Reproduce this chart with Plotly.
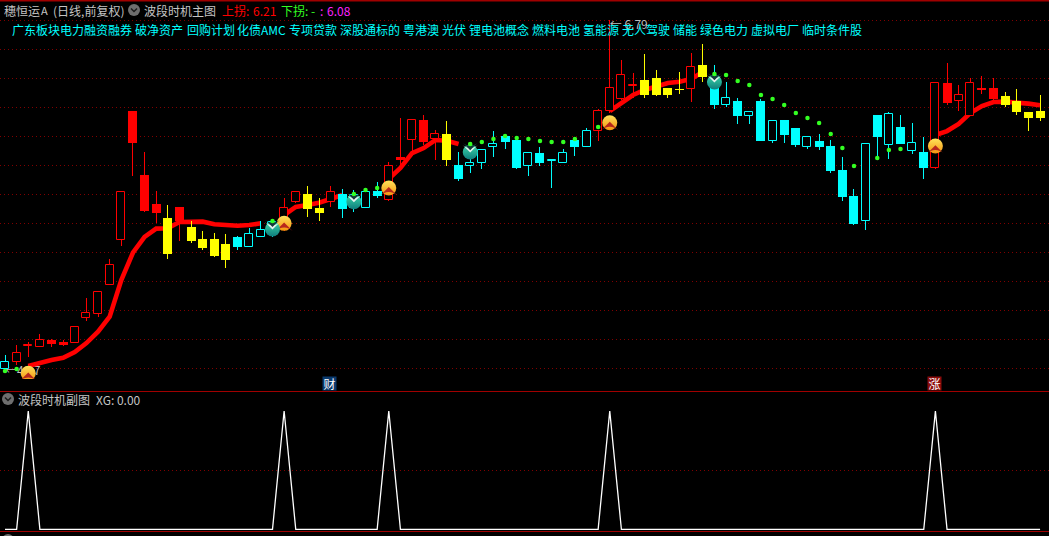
import plotly.graph_objects as go

FONT = "Noto Sans CJK SC"
W, H = 1049, 536

# ---- daily bars ----
tones = list("crrrrrrrrrrrrryryyyyccccrryyrccccrrrrrycccccccccccc"
             "rrrryyyyryccccccccccccccccccc" "rrrrrryyyy")
opens = [4.489, 4.531, 4.638, 4.634, 4.678, 4.665, 4.660, 4.821, 4.848, 5.043,
         5.336, 6.189, 5.767, 5.576, 5.483, 5.554, 5.424, 5.345, 5.345, 5.312,
         5.358, 5.294, 5.360, 5.391, 5.483, 5.591, 5.642, 5.549, 5.591, 5.642,
         5.642, 5.551, 5.659, 5.604, 5.886, 5.996, 6.128, 6.007, 6.038, 5.833,
         5.824, 5.846, 5.950, 6.024, 5.998, 5.828, 5.910, 5.859, 5.846, 5.998,
         5.954, 6.055, 6.187, 6.271, 6.354, 6.394, 6.407, 6.341, 6.335, 6.337,
         6.493, 6.339, 6.229, 6.255, 6.158, 6.255, 5.991, 6.130, 6.077, 5.952,
         5.991, 5.958, 5.800, 5.628, 5.463, 6.163, 5.965, 6.084, 5.925, 5.919,
         5.813, 6.372, 6.253, 6.158, 6.339, 6.339, 6.288, 6.255, 6.183, 6.189]
closes = [4.531, 4.590, 4.645, 4.676, 4.654, 4.647, 4.762, 4.854, 4.993, 5.171,
          5.653, 5.976, 5.529, 5.516, 5.248, 5.465, 5.331, 5.285, 5.232, 5.206,
          5.292, 5.376, 5.402, 5.457, 5.547, 5.653, 5.543, 5.516, 5.653, 5.543,
          5.549, 5.653, 5.630, 5.826, 5.866, 6.128, 5.987, 6.038, 5.866, 5.741,
          5.846, 5.932, 5.972, 5.985, 5.813, 5.910, 5.846, 5.866, 5.910, 5.952,
          6.055, 6.187, 6.339, 6.425, 6.361, 6.295, 6.295, 6.295, 6.328, 6.478,
          6.414, 6.229, 6.273, 6.158, 6.181, 5.991, 6.121, 6.031, 5.965, 6.016,
          5.952, 5.793, 5.622, 5.444, 5.972, 6.018, 6.168, 5.972, 5.976, 5.813,
          6.372, 6.242, 6.293, 6.372, 6.328, 6.269, 6.229, 6.183, 6.143, 6.143]
highs = [4.579, 4.645, 4.665, 4.718, 4.685, 4.676, 4.770, 4.955, 4.999, 5.211,
         5.655, 6.189, 5.919, 5.661, 5.569, 5.556, 5.463, 5.397, 5.384, 5.378,
         5.364, 5.417, 5.463, 5.470, 5.615, 5.655, 5.694, 5.615, 5.694, 5.675,
         5.668, 5.655, 5.721, 5.853, 6.143, 6.130, 6.163, 6.064, 6.123, 5.919,
         5.932, 5.932, 6.057, 6.038, 6.011, 5.910, 5.952, 5.866, 5.939, 6.011,
         6.077, 6.203, 6.790, 6.526, 6.438, 6.566, 6.460, 6.341, 6.447, 6.572,
         6.632, 6.493, 6.379, 6.275, 6.189, 6.269, 6.121, 6.130, 6.077, 6.024,
         6.038, 5.998, 5.886, 5.675, 5.972, 6.163, 6.181, 6.163, 6.110, 6.018,
         6.372, 6.506, 6.361, 6.405, 6.420, 6.405, 6.315, 6.335, 6.183, 6.295]
lows = [4.480, 4.513, 4.568, 4.634, 4.634, 4.640, 4.656, 4.805, 4.828, 5.039,
        5.300, 5.762, 5.525, 5.452, 5.215, 5.331, 5.320, 5.272, 5.226, 5.153,
        5.274, 5.294, 5.360, 5.358, 5.399, 5.582, 5.492, 5.463, 5.558, 5.485,
        5.525, 5.551, 5.617, 5.595, 5.822, 5.899, 5.965, 5.866, 5.826, 5.727,
        5.780, 5.807, 5.886, 5.939, 5.807, 5.760, 5.826, 5.683, 5.846, 5.892,
        5.954, 5.991, 6.176, 6.262, 6.273, 6.277, 6.288, 6.275, 6.302, 6.251,
        6.381, 6.203, 6.218, 6.104, 6.104, 5.991, 5.978, 5.978, 5.952, 5.939,
        5.932, 5.780, 5.595, 5.437, 5.404, 5.866, 5.873, 5.972, 5.906, 5.741,
        5.807, 6.229, 6.189, 6.158, 6.302, 6.262, 6.216, 6.163, 6.057, 6.123]

# ---- thick trend line (gaps where the indicator is off) ----
trend = [None, None,
         4.506, 4.528, 4.546, 4.561, 4.599, 4.658, 4.733, 4.832, 5.074, 5.254,
         5.358, 5.413, 5.415, 5.457, 5.459, 5.459, 5.442, 5.435, 5.432, 5.437, 5.448,
         None,
         5.503, 5.556, 5.569, 5.584, 5.609, 5.635,
         None, None, None,
         5.741, 5.813, 5.912, 5.945, 5.998, 5.993, 5.972,
         None, None, None, None, None, None, None, None, None, None, None, None,
         6.189, 6.242, 6.295, 6.328, 6.354, 6.374, 6.383, 6.401, 6.447,
         None, None, None, None, None, None, None, None, None, None,
         None, None, None, None, None, None, None, None, None,
         6.031, 6.057, 6.104, 6.176, 6.222, 6.249, 6.251, 6.247, 6.238, 6.227]

# ---- green dots ----
dot_bars = [0, 1, 23, 30, 31, 32, 40, 41, 42, 43, 44, 45, 46, 47, 48, 49, 51,
            61, 62, 63, 64, 65, 66, 67, 68, 69, 70, 71, 72, 73, 75, 76, 77]
dot_vals = [4.473, 4.487, 5.463, 5.642, 5.668, 5.681, 5.972, 5.985, 6.005, 6.024,
            6.011, 6.005, 5.991, 5.985, 5.985, 6.005, 6.084, 6.434, 6.427, 6.387,
            6.361, 6.295, 6.269, 6.229, 6.176, 6.143, 6.110, 6.038, 5.945, 5.826,
            5.879, 5.932, 5.939]

# ---- signals ----
buy_bars = [2, 24, 33, 52, 80]
buy_vals = [4.458, 5.448, 5.681, 6.112, 5.958]
sell_bars = [23, 30, 40, 61]
sell_vals = [5.411, 5.591, 5.919, 6.381]
xg_values = [1 if i in buy_bars else 0 for i in range(len(opens))]

# ---- price labels ----
extreme_bars = [0, 52]
extreme_vals = [4.47, 6.75]
extreme_text = ["←4.47", "← 6.79"]

# ---- concept tags ----
tags = ["广东板块电力融资融券", "破净资产", "回购计划", "化债AMC", "专项贷款", "深股通标的",
        "粤港澳", "光伏", "锂电池概念", "燃料电池", "氢能源", "无人驾驶", "储能",
        "绿色电力", "虚拟电厂", "临时条件股"]
tag_px = [11, 134, 186, 236, 288, 339, 402, 441, 468, 531, 582, 621, 672, 699, 750, 801]

bars = list(range(len(opens)))
COL = {"r": "#ff0000", "c": "#00ffff", "y": "#ffff00"}

# scale constants: pixels <-> axis
PX_PER_BAR = 11.63
X_RANGE = [(0 - 5) / PX_PER_BAR, (W - 5) / PX_PER_BAR]
PRICE_RANGE = [4.4206, 6.922]
BODY = 9 / PX_PER_BAR
HOLLOW = 8 / PX_PER_BAR
WICK = 1 / PX_PER_BAR

fig = go.Figure()

# labels (sit below the round icons)
fig.add_trace(go.Scatter(x=extreme_bars, y=extreme_vals, mode="text", text=extreme_text,
                         textposition="middle right",
                         textfont=dict(family=FONT, size=12, color="#bdbdbd"),
                         xaxis="x", yaxis="y", hoverinfo="skip"))
# trend line under the candles
fig.add_trace(go.Scatter(x=bars, y=trend, mode="lines",
                         line=dict(color="#ff0000", width=4.6), connectgaps=False,
                         xaxis="x", yaxis="y", hoverinfo="skip"))

# wicks
for tone, color in COL.items():
    idx = [i for i in bars if tones[i] == tone]
    fig.add_trace(go.Bar(x=idx, y=[highs[i] - lows[i] for i in idx], base=[lows[i] for i in idx],
                         width=WICK, marker=dict(color=color, line=dict(color=color, width=0.02)),
                         xaxis="x2", yaxis="y2", hoverinfo="skip"))
# bodies
for tone, color in COL.items():
    full = [i for i in bars if tones[i] == tone and closes[i] < opens[i]]
    hollow = [i for i in bars if tones[i] == tone and closes[i] >= opens[i]]
    if full:
        fig.add_trace(go.Bar(x=full, y=[opens[i] - closes[i] for i in full],
                             base=[closes[i] for i in full], width=BODY,
                             marker=dict(color=color, line=dict(color=color, width=0.02)),
                             xaxis="x2", yaxis="y2", hoverinfo="skip"))
    if hollow:
        fig.add_trace(go.Bar(x=hollow, y=[closes[i] - opens[i] for i in hollow],
                             base=[opens[i] for i in hollow], width=HOLLOW,
                             marker=dict(color="#000000", line=dict(color=color, width=1)),
                             xaxis="x2", yaxis="y2", hoverinfo="skip"))

# buy icons
fig.add_trace(go.Scatter(x=buy_bars, y=buy_vals, mode="markers", xaxis="x2", yaxis="y2", hoverinfo="skip",
                         marker=dict(symbol="circle", size=15, color="#ffe25a",
                                     gradient=dict(type="vertical", color="#f59310"), line=dict(width=0))))
fig.add_trace(go.Scatter(x=buy_bars, y=[v + 0.006 for v in buy_vals], mode="markers", xaxis="x2", yaxis="y2",
                         hoverinfo="skip",
                         marker=dict(symbol="arrow-wide", size=12, color="#b8281c", line=dict(width=0))))
# sell icons
fig.add_trace(go.Scatter(x=sell_bars, y=sell_vals, mode="markers", xaxis="x2", yaxis="y2", hoverinfo="skip",
                         marker=dict(symbol="circle", size=15, color="#3ddcaa",
                                     gradient=dict(type="vertical", color="#0f7d7d"), line=dict(width=0))))
fig.add_trace(go.Scatter(x=sell_bars, y=[v - 0.004 for v in sell_vals], mode="markers", xaxis="x2", yaxis="y2",
                         hoverinfo="skip",
                         marker=dict(symbol="arrow-wide", angle=180, size=11, color="#e8f4f0", line=dict(width=0))))
fig.add_trace(go.Scatter(x=sell_bars, y=[v + 0.012 for v in sell_vals], mode="markers", xaxis="x2", yaxis="y2",
                         hoverinfo="skip",
                         marker=dict(symbol="arrow-wide", angle=180, size=11, color="#123a3a", line=dict(width=0))))
# dots
fig.add_trace(go.Scatter(x=dot_bars, y=dot_vals, mode="markers", xaxis="x2", yaxis="y2", hoverinfo="skip",
                         marker=dict(symbol="circle", size=4.5, color="#33ff22", line=dict(width=0))))
# XG sub panel
fig.add_trace(go.Scatter(x=bars, y=xg_values, mode="lines", line=dict(color="#ffffff", width=1.3),
                         xaxis="x3", yaxis="y3", hoverinfo="skip"))


def px(x):
    return x / W


def py(y):
    return 1 - y / H


def label(x, y, text, color, size=12, **kw):
    return dict(x=px(x), y=py(y), xref="paper", yref="paper", text=text, showarrow=False,
                xanchor=kw.pop("xanchor", "left"), yanchor="middle",
                font=dict(family=FONT, size=size, color=color), borderpad=0, **kw)


GRAY = "#c4c4c4"
annos = [
    label(3, 10, "穗恒运", GRAY),
    label(40, 10, "A", GRAY, size=11),
    label(52, 10, "(日线,前复权)", GRAY),
    label(143, 10, "波段时机主图", GRAY),
    label(221, 10, "上拐:", "#ff0000"),
    label(252, 10, "6.21", "#ff0000"),
    label(280, 10, "下拐:", "#33ff22"),
    label(310, 10, "-", "#33ff22"),
    label(319, 10, ":", "#ff22ff"),
    label(326, 10, "6.08", "#ff22ff"),
    label(17, 399, "波段时机副图", GRAY),
    label(95, 399, "XG: 0.00", GRAY),
    label(19, 541, "VOL: 3.02 0.00", GRAY),
    label(107, 541, "0.00 0.00", "#f0f0f0"),
    label(161, 541, "MA5: 0.00", "#ffff00"),
    label(220, 541, "MA10: 0.00", "#ff22ff"),
    dict(x=px(329.5), y=py(383.5), xref="paper", yref="paper", text="财", showarrow=False, width=13, height=13,
         xanchor="center", yanchor="middle", bgcolor="#0a3a6e", borderpad=0,
         font=dict(family=FONT, size=12, color="#ffffff")),
    dict(x=px(934.5), y=py(383.5), xref="paper", yref="paper", text="涨", showarrow=False, width=13, height=13,
         xanchor="center", yanchor="middle", bgcolor="#8a0c0c", borderpad=0,
         font=dict(family=FONT, size=12, color="#ffffff")),
]
annos += [label(x, 30, t, "#00ffff") for t, x in zip(tags, tag_px)]


def hline(y, width=1, color="#a00000"):
    return dict(type="line", xref="paper", yref="paper", x0=0, x1=1, y0=py(y), y1=py(y),
                line=dict(color=color, width=width))


def knob(cx, cy):
    r = 6
    return [dict(type="circle", xref="paper", yref="paper", x0=px(cx - r), x1=px(cx + r),
                 y0=py(cy + r), y1=py(cy - r), fillcolor="#6e6e6e", line=dict(width=0)),
            dict(type="path", xref="paper", yref="paper",
                 path=f"M {px(cx-3)} {py(cy-1.5)} L {px(cx)} {py(cy+1.5)} L {px(cx+3)} {py(cy-1.5)}",
                 line=dict(color="#1c1c1c", width=1.5))]


shapes = [hline(0.5, 2), hline(391.5), hline(531.5)] + knob(134, 10) + knob(8, 399) + knob(8, 540)

axis_off = dict(showgrid=False, zeroline=False, showticklabels=False, ticks="", showline=False)
GRID = dict(showgrid=True, gridcolor="#800000", griddash="1px,3px", gridwidth=1,
            zeroline=False, showticklabels=False, ticks="", showline=False)

fig.update_layout(
    width=W, height=H, margin=dict(l=0, r=0, t=0, b=0), showlegend=False,
    paper_bgcolor="#000000", plot_bgcolor="#000000", barmode="overlay", bargap=0,
    xaxis=dict(domain=[0, 1], range=X_RANGE, anchor="y", **axis_off),
    yaxis=dict(domain=[py(379), 1], range=PRICE_RANGE, anchor="x", tickmode="linear",
               tick0=4.4932, dtick=0.1914, **GRID),
    xaxis2=dict(range=X_RANGE, overlaying="x", anchor="y2", **axis_off),
    yaxis2=dict(range=PRICE_RANGE, overlaying="y", anchor="x2", **axis_off),
    xaxis3=dict(domain=[0, 1], range=X_RANGE, anchor="y3", **axis_off),
    yaxis3=dict(domain=[py(531), py(392)], range=[-0.0144, 1.1606], anchor="x3",
                tickmode="array", tickvals=[0.5], **GRID),
    annotations=annos, shapes=shapes,
)

fig.write_html("out.html", config=dict(displayModeBar=False),
               post_script="document.body.style.margin='0';document.body.style.background='#000';"
                           "document.documentElement.style.overflow='hidden';")
